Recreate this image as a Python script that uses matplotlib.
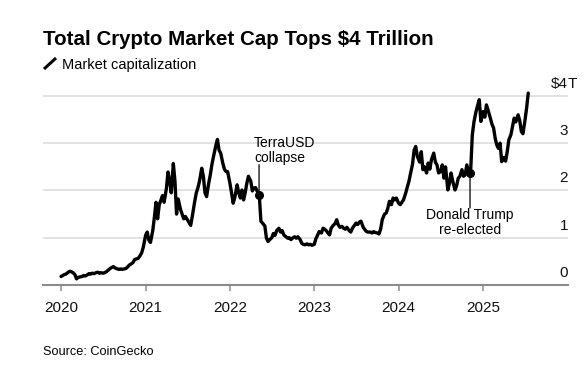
import matplotlib.pyplot as plt
import pandas as pd
from matplotlib.lines import Line2D

plt.rcParams['font.family'] = ['Liberation Sans', 'DejaVu Sans']

# market cap in trillions USD, sampled on the 1st, 8th, 15th and 22nd of each month
cap_2020 = [0.18, 0.20, 0.22, 0.23, 0.27, 0.29, 0.28, 0.26, 0.22, 0.13, 0.16, 0.17,
            0.18, 0.20, 0.19, 0.21, 0.24, 0.23, 0.25, 0.24, 0.26, 0.27, 0.25, 0.26,
            0.25, 0.26, 0.28, 0.31, 0.35, 0.37, 0.39, 0.36, 0.34, 0.33, 0.34, 0.33,
            0.34, 0.35, 0.38, 0.42, 0.45, 0.48, 0.54, 0.55, 0.57, 0.62, 0.68, 0.80]
cap_2021 = [1.05, 1.12, 0.95, 0.90, 1.15, 1.43, 1.75, 1.40, 1.70, 1.79, 1.89, 1.75,
            2.04, 2.39, 2.20, 1.95, 2.57, 2.20, 1.50, 1.82, 1.60, 1.50, 1.40, 1.45,
            1.38, 1.32, 1.26, 1.45, 1.75, 1.94, 2.05, 2.19, 2.47, 2.30, 1.95, 1.87,
            2.15, 2.33, 2.55, 2.72, 2.95, 3.08, 2.85, 2.79, 2.58, 2.45, 2.40, 2.40]
cap_2022 = [2.15, 1.95, 1.73, 1.85, 2.12, 1.95, 1.84, 2.01, 1.80, 1.95, 2.15, 2.30,
            2.20, 1.99, 2.05, 2.06, 1.96, 1.90, 1.35, 1.31, 1.25, 0.99, 0.92, 0.96,
            1.00, 1.09, 1.05, 1.15, 1.20, 1.12, 1.15, 1.06, 1.02, 0.99, 1.00, 0.96,
            1.00, 1.02, 0.99, 1.02, 0.96, 0.88, 0.86, 0.85, 0.87, 0.85, 0.86, 0.84]
cap_2023 = [0.86, 0.98, 1.05, 1.13, 1.10, 1.20, 1.18, 1.15, 1.10, 1.06, 1.20, 1.25,
            1.30, 1.38, 1.27, 1.22, 1.24, 1.20, 1.18, 1.22, 1.15, 1.12, 1.20, 1.25,
            1.31, 1.28, 1.33, 1.35, 1.22, 1.17, 1.13, 1.12, 1.12, 1.10, 1.13, 1.11,
            1.10, 1.08, 1.18, 1.38, 1.50, 1.52, 1.62, 1.77, 1.70, 1.84, 1.80, 1.84]
cap_2024 = [1.73, 1.70, 1.75, 1.80, 1.95, 2.08, 2.20, 2.37, 2.55, 2.85, 2.93, 2.72,
            2.60, 2.82, 2.44, 2.50, 2.37, 2.58, 2.45, 2.65, 2.79, 2.60, 2.54, 2.37,
            2.40, 2.54, 2.26, 2.50, 2.01, 2.15, 2.37, 2.20, 2.01, 2.10, 2.26, 2.30,
            2.44, 2.30, 2.33, 2.54, 2.36, 2.45, 3.18, 3.45, 3.67, 3.80, 3.92, 3.46]
cap_2025 = [3.67, 3.55, 3.81, 3.70, 3.53, 3.40, 3.32, 3.10, 2.96, 2.89, 3.00, 2.61,
            2.70, 2.62, 2.82, 3.07, 3.18, 3.35, 3.53, 3.45, 3.60, 3.48, 3.25, 3.20,
            3.49, 3.75, 4.06]

cap = cap_2020 + cap_2021 + cap_2022 + cap_2023 + cap_2024 + cap_2025
months = pd.period_range("2020-01", "2025-07", freq="M")
sample_days = [1, 8, 15, 22]
dates = pd.to_datetime([f"{m}-{d:02d}" for m in months for d in sample_days])[:len(cap)]

events = ["TerraUSD\ncollapse", "Donald Trump\nre-elected"]
event_dates = pd.to_datetime(["2022-05-07", "2024-11-05"])
event_values = [1.91, 2.37]

years = [2020, 2021, 2022, 2023, 2024, 2025]
y_levels = [0, 1, 2, 3, 4]
y_labels = ["0", "1", "2", "3", "$4"]

fig = plt.figure(figsize=(5.88, 3.67), dpi=100)
ax = fig.add_axes([43 / 588, 1 - 285 / 367, 525 / 588, 208 / 367])

ax.plot(dates, cap, color="black", lw=2.4, solid_joinstyle="round",
        solid_capstyle="round", clip_on=False, zorder=3)
ax.plot(event_dates, event_values, "o", color="black", ms=5.5, zorder=4)

ax.set_xlim(pd.Timestamp("2019-10-15"), pd.Timestamp("2026-01-03"))
ax.set_ylim(0, 4.4)

for s in ["top", "left", "right"]:
    ax.spines[s].set_visible(False)
ax.spines["bottom"].set_color("#8c8c8c")
ax.spines["bottom"].set_linewidth(1.5)

ax.set_yticks(y_levels[1:])
ax.yaxis.grid(True, color="#dddddd", lw=1.2)
ax.tick_params(axis="y", left=False, labelleft=False)
ax.set_axisbelow(True)

ax.set_xticks(pd.to_datetime([f"{y}-01-01" for y in years]))
ax.set_xticklabels([str(y) for y in years])
ax.tick_params(axis="x", length=4.5, width=1.1, color="#8c8c8c", pad=7,
               labelsize=11, labelcolor="#111111")

for lvl, lab in zip(y_levels, y_labels):
    ax.annotate(lab, xy=(1.0, lvl), xycoords=("axes fraction", "data"),
                xytext=(0, 8), textcoords="offset pixels",
                ha="right", va="baseline", fontsize=11, color="#111111")
ax.annotate("T", xy=(1.0, 4), xycoords=("axes fraction", "data"),
            xytext=(0, 8), textcoords="offset pixels",
            ha="left", va="baseline", fontsize=11, color="#111111")

# event leader lines and labels
ax.annotate("", xy=(event_dates[0], event_values[0]), xytext=(0, 30),
            textcoords="offset pixels",
            arrowprops=dict(arrowstyle="-", lw=0.9, color="black", shrinkA=0, shrinkB=0))
ax.annotate(events[0], xy=(event_dates[0], event_values[0]), xytext=(-5, 30),
            textcoords="offset pixels", ha="left", va="bottom",
            fontsize=10, linespacing=1.05)
ax.annotate("", xy=(event_dates[1], event_values[1]), xytext=(0, -35),
            textcoords="offset pixels",
            arrowprops=dict(arrowstyle="-", lw=0.9, color="black", shrinkA=0, shrinkB=0))
ax.annotate(events[1], xy=(event_dates[1], event_values[1]), xytext=(0, -35),
            textcoords="offset pixels", ha="center", va="top",
            fontsize=10, linespacing=1.05)

fig.text(43 / 588, 1 - 45 / 367, "Total Crypto Market Cap Tops $4 Trillion",
         fontsize=14.8, fontweight="bold", va="baseline", ha="left")
fig.add_artist(Line2D([44 / 588, 56 / 588], [1 - 69 / 367, 1 - 58 / 367],
                      color="black", lw=2.2, solid_capstyle="butt"))
fig.text(62 / 588, 1 - 69 / 367, "Market capitalization",
         fontsize=10.5, va="baseline", ha="left")
fig.text(43 / 588, 1 - 355 / 367, "Source: CoinGecko",
         fontsize=9.2, va="baseline", ha="left")

fig.savefig("out.png", dpi=100)
